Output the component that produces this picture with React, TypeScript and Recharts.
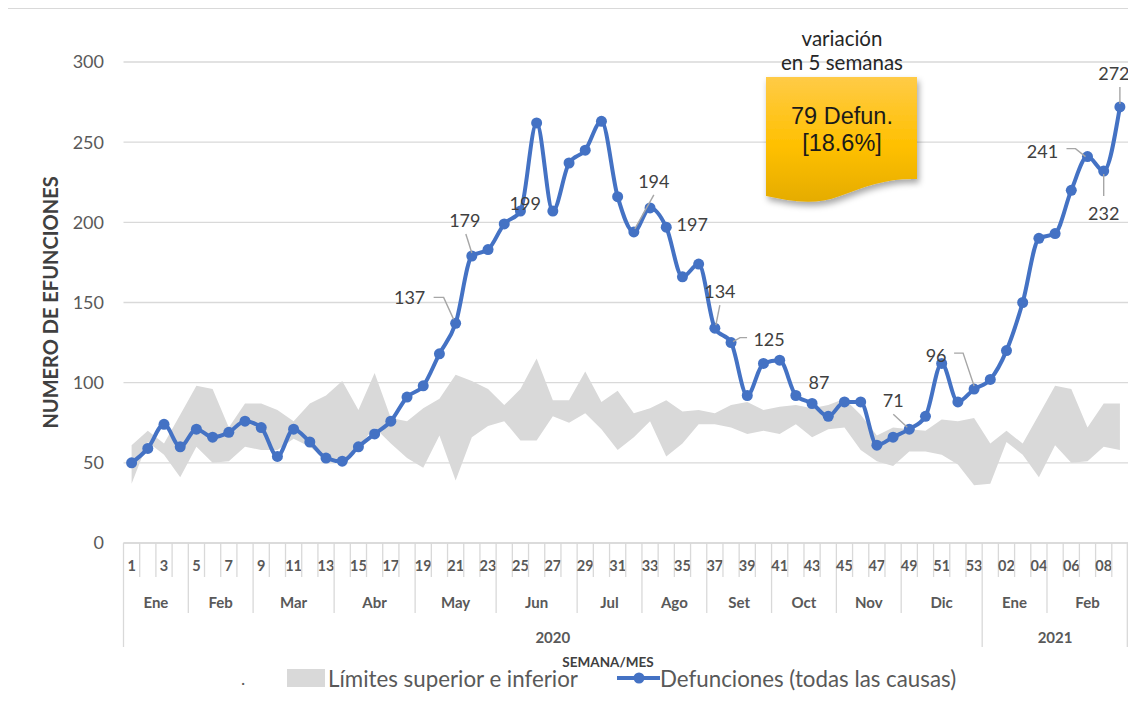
import React from 'react';
import { ComposedChart, Area, Line, XAxis, YAxis, CartesianGrid, ReferenceDot } from 'recharts';

const WEEKS = [
  '1', '2', '3', '4', '5', '6', '7', '8', '9', '10', '11', '12', '13', '14', '15', '16', '17', '18',
  '19', '20', '21', '22', '23', '24', '25', '26', '27', '28', '29', '30', '31', '32', '33', '34', '35',
  '36', '37', '38', '39', '40', '41', '42', '43', '44', '45', '46', '47', '48', '49', '50', '51', '52', '53',
  '01', '02', '03', '04', '05', '06', '07', '08', '09',
];

const DEFUNCIONES = [
  50, 59, 74, 60, 71, 66, 69, 76, 72, 54,
  71, 63, 53, 51, 60, 68, 76, 91, 98, 118,
  137, 179, 183, 199, 207, 262, 207, 237, 245, 263,
  216, 194, 209, 197, 166, 174, 134, 125, 92, 112,
  114, 92, 87, 79, 88, 88, 61, 66, 71, 79,
  112, 88, 96, 102, 120, 150, 190, 193, 220, 241,
  232, 272,
];

const LIMITE_SUP = [
  61, 70, 62, 80, 98, 96, 72, 87, 87, 83,
  76, 87, 92, 101, 83, 106, 78, 76, 84, 90,
  105, 101, 96, 86, 96, 115, 89, 89, 107, 88,
  95, 81, 84, 89, 82, 83, 81, 86, 88, 83,
  85, 86, 84, 86, 90, 80, 67, 72, 71, 70,
  77, 76, 78, 62, 70, 62, 80, 98, 96, 72,
  87, 87,
];

const LIMITE_INF = [
  37, 63, 55, 41, 60, 50, 51, 60, 58, 58,
  65, 60, 52, 50, 60, 72, 62, 53, 47, 67,
  39, 66, 73, 76, 64, 64, 79, 75, 81, 71,
  58, 66, 76, 54, 62, 74, 74, 72, 68, 70,
  68, 74, 66, 71, 72, 58, 51, 48, 57, 57,
  55, 49, 36, 37, 63, 55, 41, 61, 50, 51,
  60, 58,
];

const MONTHS = ['Ene', 'Feb', 'Mar', 'Abr', 'May', 'Jun', 'Jul', 'Ago', 'Set', 'Oct', 'Nov', 'Dic', 'Ene', 'Feb'];
const MONTH_WEEKS = [4, 4, 5, 5, 5, 5, 4, 4, 4, 4, 4, 5, 4, 5];
const YEARS = ['2020', '2021'];
const YEAR_WEEKS = [53, 9];
const Y_TICKS = [0, 50, 100, 150, 200, 250, 300];

const data = WEEKS.map((week, i) => ({
  week,
  def: DEFUNCIONES[i],
  band: [LIMITE_INF[i], LIMITE_SUP[i]],
}));

// where each month / year group starts (index of first week)
const groupStarts = (counts: number[]) => {
  const out: Record<number, number> = {};
  let acc = 0;
  counts.forEach((c, k) => {
    out[acc] = k;
    acc += c;
  });
  return out;
};
const MONTH_START = groupStarts(MONTH_WEEKS);
const YEAR_START = groupStarts(YEAR_WEEKS);

const W = 1120;
const H = 688;
const MARGIN = { top: 54, right: 0, bottom: 43, left: 0 };
const Y_AXIS_W = 115.5;
const PLOT_W = W - MARGIN.left - MARGIN.right - Y_AXIS_W;
const BW = PLOT_W / WEEKS.length;

const FONT = 'Lato, "Open Sans", sans-serif';
const GRID = '#D9D9D9';
const BLUE = '#4472C4';
const TEXT = '#595959';

const AxisTick = (props: any) => {
  const { x, y, index } = props;
  const left = x - BW / 2;
  const els: React.ReactNode[] = [];

  let h = 34;
  if (MONTH_START[index] !== undefined) h = 70;
  if (YEAR_START[index] !== undefined) h = 104;
  els.push(<line key="b" x1={left} x2={left} y1={y} y2={y + h} stroke={GRID} strokeWidth={1.3} />);
  if (index === WEEKS.length - 1) {
    els.push(<line key="r" x1={left + BW - 0.7} x2={left + BW - 0.7} y1={y} y2={y + 104} stroke={GRID} strokeWidth={1.3} />);
  }
  if (index % 2 === 0) {
    els.push(
      <text key="w" x={x} y={y + 22} textAnchor="middle" dominantBaseline="central" fontSize={14.5} fontWeight={700} fill={TEXT} fontFamily={FONT}>
        {WEEKS[index]}
      </text>
    );
  }
  const m = MONTH_START[index];
  if (m !== undefined) {
    els.push(
      <text key="m" x={left + (MONTH_WEEKS[m] * BW) / 2} y={y + 59} textAnchor="middle" dominantBaseline="central" fontSize={15} fontWeight={700} fill={TEXT} fontFamily={FONT}>
        {MONTHS[m]}
      </text>
    );
  }
  const yr = YEAR_START[index];
  if (yr !== undefined) {
    els.push(
      <text key="y" x={left + (YEAR_WEEKS[yr] * BW) / 2} y={y + 94} textAnchor="middle" dominantBaseline="central" fontSize={15} fontWeight={700} fill={TEXT} fontFamily={FONT}>
        {YEARS[yr]}
      </text>
    );
  }
  return <g>{els}</g>;
};

// placement of the data labels that are shown (text offset + leader line)
const LABEL_POS: Record<number, { dx: number; dy: number; leader?: number[][] }> = {
  20: { dx: -46, dy: -26, leader: [[-22, -26], [-12, -26], [-2, -4]] },
  21: { dx: -7, dy: -36, leader: [[-6, -22], [0, -3]] },
  23: { dx: 21, dy: -21 },
  31: { dx: 20, dy: -51, leader: [[20, -37], [1, -3]] },
  33: { dx: 26, dy: -3 },
  36: { dx: 5, dy: -37, leader: [[5, -23], [1, -3]] },
  37: { dx: 38, dy: -4, leader: [[16, -5], [9, -5], [2, -1]] },
  42: { dx: 7, dy: -22 },
  48: { dx: -16, dy: -29, leader: [[-16, -15], [-2, -2]] },
  52: { dx: -38, dy: -34, leader: [[-20, -36], [-11, -36], [0, -3]] },
  59: { dx: -45, dy: -6, leader: [[-21, -8], [-12, -8], [-2, 0]] },
  60: { dx: 0, dy: 42, leader: [[0, 25], [0, 3]] },
  61: { dx: -6, dy: -34, leader: [[0, -20], [0, -3]] },
};
const LABELLED = Object.keys(LABEL_POS).map(Number);

const makeLabel = (i: number) => (props: any) => {
  const vb = props.viewBox || {};
  const x = vb.x + (vb.width || 0) / 2;
  const y = vb.y + (vb.height || 0) / 2;
  const pos = LABEL_POS[i];
  return (
    <g>
      {pos.leader && (
        <polyline
          points={pos.leader.map(([a, b]) => `${x + a},${y + b}`).join(' ')}
          fill="none"
          stroke="#A6A6A6"
          strokeWidth={1.4}
        />
      )}
      <text x={x + pos.dx} y={y + pos.dy} textAnchor="middle" dominantBaseline="central" fontSize={18} fill="#404040" fontFamily={FONT}>
        {DEFUNCIONES[i]}
      </text>
    </g>
  );
};

const YLabel = (props: any) => {
  const { viewBox } = props;
  const cy = viewBox.y + viewBox.height / 2;
  return (
    <text x={42} y={cy} transform={`rotate(-90 42 ${cy})`} textAnchor="middle" dominantBaseline="central" fontSize={20} fontWeight={700} fill="#404040" fontFamily={FONT}>
      NUMERO DE EFUNCIONES
    </text>
  );
};

const Overlay = () => (
  <svg width={W} height={H} style={{ position: 'absolute', left: 0, top: 0, pointerEvents: 'none', overflow: 'visible' }}>
    <defs>
      <linearGradient id="note" x1="0" y1="0" x2="0" y2="1">
        <stop offset="0%" stopColor="#FFCB47" />
        <stop offset="55%" stopColor="#FFC000" />
        <stop offset="100%" stopColor="#E5AC00" />
      </linearGradient>
      <filter id="shadow" x="-20%" y="-20%" width="140%" height="150%">
        <feDropShadow dx="2" dy="4" stdDeviation="3" floodColor="#000" floodOpacity="0.35" />
      </filter>
    </defs>
    <line x1={0} x2={W + 8} y1={0.5} y2={0.5} stroke={GRID} strokeWidth={1} />

    <text x={834} y={30} textAnchor="middle" dominantBaseline="central" fontSize={20.5} fill="#262626" fontFamily={FONT}>variación</text>
    <text x={834} y={54} textAnchor="middle" dominantBaseline="central" fontSize={20.5} fill="#262626" fontFamily={FONT}>en 5 semanas</text>
    <path
      d="M758 69 L909 69 L909 171 C880 170 858 178 832 188 C806 198 782 193 758 188 Z"
      fill="url(#note)"
      filter="url(#shadow)"
    />
    <text x={834} y={108} textAnchor="middle" dominantBaseline="central" fontSize={23.5} fill="#1A1A1A" fontFamily='"Liberation Sans", Arial, sans-serif'>79 Defun.</text>
    <text x={834} y={135} textAnchor="middle" dominantBaseline="central" fontSize={23.5} fill="#1A1A1A" fontFamily='"Liberation Sans", Arial, sans-serif'>[18.6%]</text>

    <text x={600} y={654} textAnchor="middle" dominantBaseline="central" fontSize={13.5} fontWeight={700} fill="#404040" fontFamily={FONT}>SEMANA/MES</text>

    <text x={235} y={670} textAnchor="middle" dominantBaseline="central" fontSize={18} fill={TEXT} fontFamily={FONT}>.</text>
    <rect x={279} y={661} width={38} height={18} fill={GRID} />
    <text x={320} y={670} dominantBaseline="central" fontSize={22.3} fill={TEXT} fontFamily={FONT}>Límites superior e inferior</text>
    <line x1={609} x2={652} y1={670} y2={670} stroke={BLUE} strokeWidth={4} />
    <circle cx={631} cy={670} r={5.5} fill={BLUE} />
    <text x={652} y={670} dominantBaseline="central" fontSize={22.3} fill={TEXT} fontFamily={FONT}>Defunciones (todas las causas)</text>
  </svg>
);

export default function App() {
  return (
    <div style={{ position: 'relative', width: W, height: H, background: '#fff' }}>
      <style>{'.recharts-wrapper, .recharts-surface { overflow: visible !important; }'}</style>
      <ComposedChart width={W} height={H} data={data} margin={MARGIN}>
        <CartesianGrid vertical={false} stroke={GRID} strokeWidth={1.3} />
        <XAxis
          dataKey="week"
          scale="band"
          interval={0}
          height={110}
          tickLine={false}
          tickSize={0}
          tickMargin={0}
          axisLine={{ stroke: GRID, strokeWidth: 1.3 }}
          tick={<AxisTick />}
        />
        <YAxis
          domain={[0, 300]}
          ticks={Y_TICKS}
          width={Y_AXIS_W}
          axisLine={false}
          tickLine={false}
          tickSize={0}
          tickMargin={19.5}
          tick={{ fontSize: 18, fill: TEXT, fontFamily: FONT }}
          label={<YLabel />}
        />
        <Area
          dataKey="band"
          type="linear"
          fill={GRID}
          fillOpacity={1}
          stroke="none"
          isAnimationActive={false}
          activeDot={false}
        />
        <Line
          dataKey="def"
          type="monotone"
          stroke={BLUE}
          strokeWidth={4}
          dot={{ r: 5.5, fill: BLUE, stroke: BLUE, strokeWidth: 0 }}
          activeDot={false}
          isAnimationActive={false}
        />
        {LABELLED.map((i) => (
          <ReferenceDot
            key={i}
            x={WEEKS[i]}
            y={DEFUNCIONES[i]}
            r={0}
            fill="none"
            stroke="none"
            ifOverflow="visible"
            label={makeLabel(i)}
          />
        ))}
      </ComposedChart>
      <Overlay />
    </div>
  );
}
